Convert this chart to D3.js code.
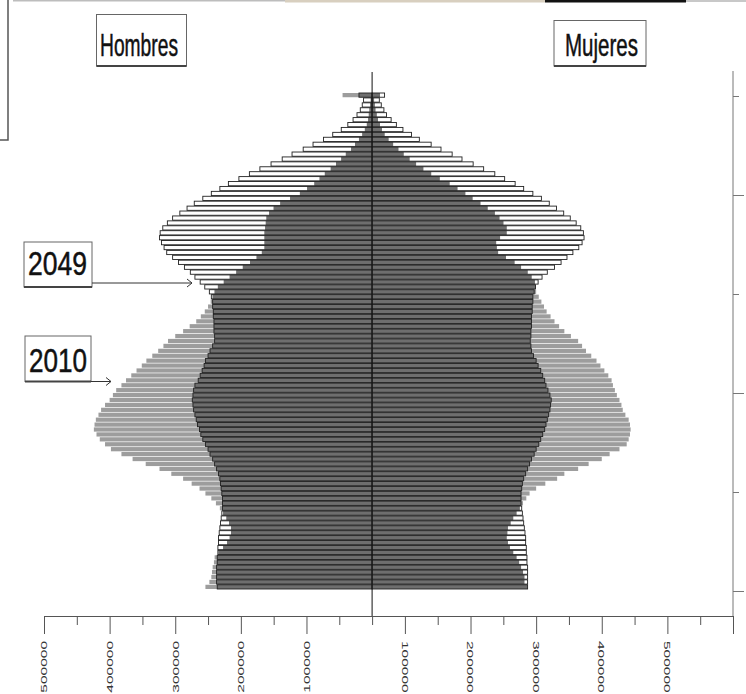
<!DOCTYPE html>
<html>
<head>
<meta charset="utf-8">
<script src="https://cdn.jsdelivr.net/npm/d3@7"></script>
<style>
  body { margin: 0; background: #fff; }
  svg { display: block; }
</style>
</head>
<body>
<svg id="chart" width="746" height="694"></svg>
<script>
// Edades 0..100 (la ultima barra es 100 y mas)
const edades = d3.range(0, 101);

// Poblacion en miles
const hombres2010 = [254,248,245,244,243,241,240,234,227,221,
  217,215,215,218,222,227,232,238,245,254,
  263,275,288,306,324,345,365,382,398,407,
  415,420,424,423,421,417,413,407,400,395,
  390,382,375,367,359,351,344,335,326,318,
  311,300,288,278,268,261,255,250,246,243,
  240,235,226,217,207,197,186,176,168,164,
  164,164,164,163,162,161,157,150,140,125,
  110,99,88,80,72,63,55,47,40,32,
  26,20,15,11,8,6,5,4,3,2,
  45];
const hombres2049 = [236,237,237,237,237,236,236,235,235,234,
  234,233,232,231,230,229,228,228,228,229,
  230,231,232,234,237,240,243,247,250,254,
  258,261,263,266,268,270,272,273,274,273,
  272,270,265,262,259,256,254,250,247,243,
  240,240,241,241,241,242,242,243,243,245,
  248,255,262,270,277,286,295,304,313,317,
  321,324,323,319,312,304,293,282,271,258,
  245,232,219,203,187,171,154,137,122,105,
  90,74,60,47,37,29,23,18,15,13,
  20];
const mujeres2010 = [237,232,232,230,227,224,220,215,210,207,
  205,206,207,211,215,220,225,230,235,240,
  250,264,282,293,314,330,350,362,377,388,
  391,393,394,393,391,386,382,380,377,373,
  370,367,365,360,354,348,342,334,326,320,
  314,303,293,285,278,272,266,262,258,254,
  250,249,248,243,237,227,217,204,192,190,
  189,195,205,205,200,194,187,176,165,153,
  142,130,118,103,90,78,67,57,48,40,
  32,25,19,15,12,9,7,5,4,3,
  12];
const mujeres2049 = [237,237,237,237,237,236,236,235,235,234,
  234,233,232,231,230,229,228,227,227,227,
  228,229,231,234,237,240,243,247,250,254,
  257,260,263,265,267,269,271,272,273,271,
  268,265,263,260,257,253,250,246,243,242,
  241,242,242,243,243,243,244,244,245,245,
  247,249,253,259,267,278,288,297,306,315,
  320,323,322,318,311,302,292,281,270,258,
  245,231,218,202,187,170,154,137,122,105,
  90,72,60,47,37,29,22,18,14,11,
  19];

// Eje X: marcas largas con etiqueta (tal como aparecen en el original)
const tickPos = [-500, -400, -300, -200, -100, 50, 150, 250, 350, 450];
const tickText = ["500000", "400000", "300000", "200000", "100000",
                  "100000", "200000", "300000", "400000", "500000"];
const ejeYLargos = [0, 40, 80];
const ejeYCortos = [20, 60, 100];

const svg = d3.select("#chart");

const x = d3.scaleLinear().domain([-500, 550]).range([44, 733]);
const y = d3.scaleBand().domain(edades).range([589, 93]).paddingInner(0.14);
const yEje = d3.scaleLinear().domain([0, 100]).range([591, 96]);

// Restos de recorte arriba
svg.append("rect").attr("x", 13).attr("y", 0).attr("width", 272).attr("height", 1.5).attr("fill", "#bdbdbd");
svg.append("rect").attr("x", 285).attr("y", 0).attr("width", 260).attr("height", 2.5).attr("fill", "#d8cfbf");
svg.append("rect").attr("x", 545).attr("y", 0).attr("width", 141).attr("height", 2.5).attr("fill", "#111");
svg.append("rect").attr("x", 686).attr("y", 0).attr("width", 60).attr("height", 2).attr("fill", "#c8c8c8");
svg.append("path").attr("d", "M8,0V140H0").attr("fill", "none").attr("stroke", "#555").attr("stroke-width", 1.5);

// Barras
function lado(sign, v2010, v2049) {
  const g = svg.append("g");
  const capa = (vals, fill, stroke) =>
    g.append("g").selectAll("rect").data(edades).enter().append("rect")
      .attr("x", (d) => (sign < 0 ? x(-vals[d]) : x(0)))
      .attr("width", (d) => x(vals[d]) - x(0))
      .attr("y", (d) => y(d))
      .attr("height", y.bandwidth())
      .attr("fill", fill)
      .attr("stroke", stroke || "none")
      .attr("stroke-width", 0.9);
  capa(v2049, "#fff");
  capa(v2010, "#9d9d9d");
  capa(edades.map((a) => Math.min(v2010[a], v2049[a])), "#6e6e6e");
  capa(v2049, "none", "#222");
}
lado(-1, hombres2010, hombres2049);
lado(1, mujeres2010, mujeres2049);

// Linea central
svg.append("line")
  .attr("x1", x(0)).attr("x2", x(0))
  .attr("y1", 72).attr("y2", 616)
  .attr("stroke", "#111").attr("stroke-width", 1);

// Eje X
const largos = tickPos.concat([550]);
const cortos = d3.range(-500, 551, 50).filter((v) => !largos.includes(v));
const gx = svg.append("g").attr("transform", "translate(0,616)");
gx.append("g").call(d3.axisBottom(x).tickValues(largos).tickSize(18).tickSizeOuter(0).tickFormat(""));
gx.append("g").call(d3.axisBottom(x).tickValues(cortos).tickSize(9).tickSizeOuter(0).tickFormat(""));
gx.selectAll("path, line").attr("stroke", "#555");

gx.selectAll("text.lbl").data(tickPos).enter().append("text")
  .attr("class", "lbl")
  .attr("transform", (d) => `translate(${x(d)},25) scale(0.62,1) rotate(${d < 0 ? -90 : 90})`)
  .attr("text-anchor", (d) => (d < 0 ? "end" : "start"))
  .attr("dominant-baseline", "central")
  .style("font-family", "'Liberation Sans', Arial, sans-serif")
  .style("font-size", "15.5px")
  .style("fill", "#333")
  .text((d, i) => tickText[i]);

// Eje Y a la derecha (sin etiquetas)
const gy = svg.append("g").attr("transform", "translate(733,0)");
gy.append("g").call(d3.axisRight(yEje).tickValues(ejeYLargos).tickSize(11).tickFormat(""));
gy.append("g").call(d3.axisRight(yEje).tickValues(ejeYCortos).tickSize(6).tickFormat(""));
gy.selectAll("path.domain").remove();
gy.append("line").attr("y1", 71).attr("y2", 616);
gy.selectAll("line").attr("stroke", "#777");

// Cajas de texto
function caja(bx, by, bw, bh, txt, tx, ty, tl, fs) {
  svg.append("rect")
    .attr("x", bx).attr("y", by).attr("width", bw).attr("height", bh)
    .attr("fill", "#fff").attr("stroke", "#666").attr("stroke-width", 1);
  svg.append("line")
    .attr("x1", bx).attr("x2", bx + bw).attr("y1", by + bh).attr("y2", by + bh)
    .attr("stroke", "#444").attr("stroke-width", 1.8);
  svg.append("text")
    .attr("x", tx).attr("y", ty)
    .attr("textLength", tl).attr("lengthAdjust", "spacingAndGlyphs")
    .style("font-family", "'Liberation Sans', Arial, sans-serif")
    .style("font-size", fs + "px")
    .style("fill", "#111")
    .style("stroke", "#111")
    .style("stroke-width", 0.5)
    .text(txt);
}
caja(96.5, 14.5, 90, 51.5, "Hombres", 100, 56, 78, 32);
caja(554, 20.5, 92, 45.5, "Mujeres", 565, 56, 73, 32);
caja(24, 242, 68, 45, "2049", 28, 275, 59, 34);
caja(25, 336, 66, 45.5, "2010", 29, 372, 58, 34);

// Flechas
function flecha(x1, x2, yy) {
  svg.append("line").attr("x1", x1).attr("x2", x2).attr("y1", yy).attr("y2", yy)
    .attr("stroke", "#333").attr("stroke-width", 1);
  svg.append("path")
    .attr("d", `M${x2 - 5},${yy - 4}L${x2},${yy}L${x2 - 5},${yy + 4}`)
    .attr("fill", "none").attr("stroke", "#333").attr("stroke-width", 1);
}
flecha(92, 192, 283);
flecha(91, 111, 381.5);
</script>
</body>
</html>
